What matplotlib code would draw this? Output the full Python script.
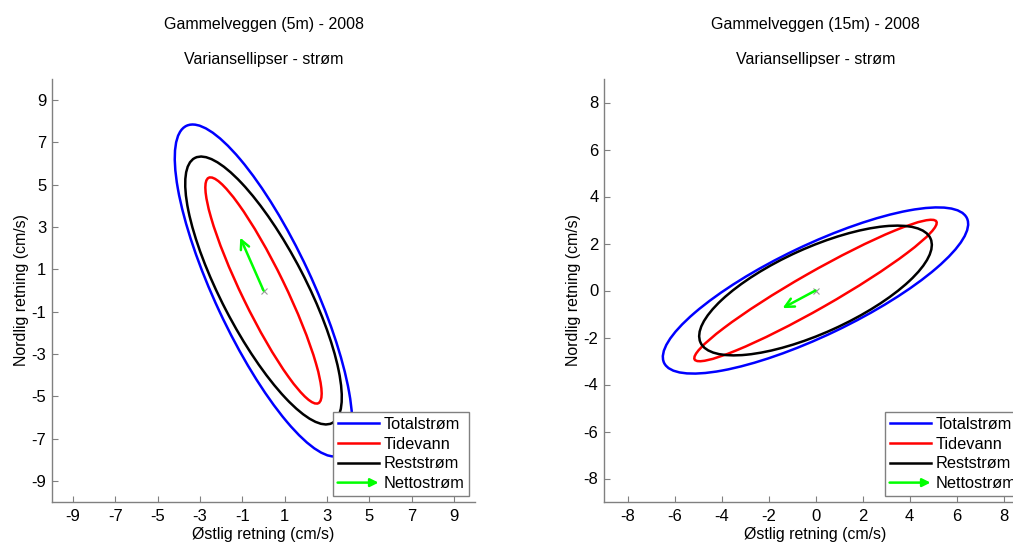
import matplotlib

matplotlib.use("Agg")
import matplotlib.pyplot as plt
import numpy as np
from matplotlib.legend_handler import HandlerBase
from matplotlib.lines import Line2D
from matplotlib.patches import Ellipse, FancyArrowPatch

plt.rcParams["font.family"] = ["Liberation Sans", "DejaVu Sans"]
plt.rcParams["axes.unicode_minus"] = False

# series: Totalstrøm, Tidevann, Reststrøm
series_names = ["Totalstrøm", "Tidevann", "Reststrøm"]
series_colors = ["#0000ff", "#ff0000", "#000000"]

# 5 m: variance components (cm/s)^2
var_u_5m = [17.6, 7.56, 13.7]
var_v_5m = [61.6, 28.6, 40.1]
cov_uv_5m = [-26.3, -13.4, -18.7]
net_5m = [-1.1, 2.5]

# 15 m
var_u_15m = [42.2, 26.6, 24.5]
var_v_15m = [12.5, 9.06, 7.62]
cov_uv_15m = [18.4, 14.84, 9.6]
net_15m = [-1.4, -0.75]

ticks_5m = [-9, -7, -5, -3, -1, 1, 3, 5, 7, 9]
ticks_15m = [-8, -6, -4, -2, 0, 2, 4, 6, 8]

GREEN = "#00ff00"
SPINE = "#808080"
LW = 1.8


class ArrowHandler(HandlerBase):
    def create_artists(self, legend, orig_handle, xdescent, ydescent,
                       width, height, fontsize, trans):
        y = height / 2 - ydescent
        arr = FancyArrowPatch((-xdescent, y), (-xdescent + width, y),
                              arrowstyle="-|>", mutation_scale=12,
                              color=GREEN, lw=LW, shrinkA=0, shrinkB=0,
                              transform=trans)
        return [arr]


def draw_panel(ax, title, var_u, var_v, cov_uv, net, lim, ticks):
    for su, sv, cuv, col in zip(var_u, var_v, cov_uv, series_colors):
        cov = np.array([[su, cuv], [cuv, sv]])
        vals, vecs = np.linalg.eigh(cov)
        major = vecs[:, 1]
        ang = np.degrees(np.arctan2(major[1], major[0]))
        ax.add_patch(Ellipse((0, 0), 2 * np.sqrt(vals[1]), 2 * np.sqrt(vals[0]),
                             angle=ang, fill=False, edgecolor=col, lw=LW))

    ax.annotate("", xy=(net[0], net[1]), xytext=(0, 0),
                arrowprops=dict(arrowstyle="->", color=GREEN, lw=LW,
                                shrinkA=0, shrinkB=0, mutation_scale=16))
    ax.plot(0, 0, "x", color="#999999", ms=4, mew=0.8)

    ax.set_xlim(-lim, lim)
    ax.set_ylim(-lim, lim)
    ax.set_xticks(ticks)
    ax.set_yticks(ticks)
    ax.tick_params(direction="in", length=4, color=SPINE, labelsize=12,
                   labelcolor="black")
    ax.tick_params(axis="x", pad=5)
    ax.tick_params(axis="y", pad=4)
    for side in ["top", "right"]:
        ax.spines[side].set_visible(False)
    for side in ["left", "bottom"]:
        ax.spines[side].set_color(SPINE)
        ax.spines[side].set_linewidth(1.0)

    ax.set_xlabel("Østlig retning (cm/s)", fontsize=11.4, labelpad=2)
    ax.set_ylabel("Nordlig retning (cm/s)", fontsize=11.4, labelpad=2)
    ax.text(0.5, 1.13, title, transform=ax.transAxes, ha="center",
            va="center", fontsize=11.5)
    ax.text(0.5, 1.045, "Variansellipser - strøm", transform=ax.transAxes,
            ha="center", va="center", fontsize=11.5)

    handles = [Line2D([], [], color=c, lw=LW) for c in series_colors]
    arrow_proxy = Line2D([], [], color=GREEN)
    handles.append(arrow_proxy)
    labels = series_names + ["Nettostrøm"]
    leg = ax.legend(handles, labels, loc="lower right", fontsize=11.8,
                    fancybox=False, framealpha=1, edgecolor=SPINE,
                    borderaxespad=0.35, borderpad=0.3, labelspacing=0.3,
                    handlelength=2.5, handletextpad=0.3,
                    handler_map={arrow_proxy: ArrowHandler()})
    leg.get_frame().set_linewidth(1.0)


fig = plt.figure(figsize=(10.13, 5.44), dpi=100)
ax1 = fig.add_axes([52 / 1013, 42 / 544, 423 / 1013, 423 / 544])
ax2 = fig.add_axes([604 / 1013, 42 / 544, 423 / 1013, 423 / 544])

draw_panel(ax1, "Gammelveggen (5m) - 2008", var_u_5m, var_v_5m, cov_uv_5m,
           net_5m, 10, ticks_5m)
draw_panel(ax2, "Gammelveggen (15m) - 2008", var_u_15m, var_v_15m, cov_uv_15m,
           net_15m, 9, ticks_15m)

fig.savefig("out.png", dpi=100)
plt.close(fig)
